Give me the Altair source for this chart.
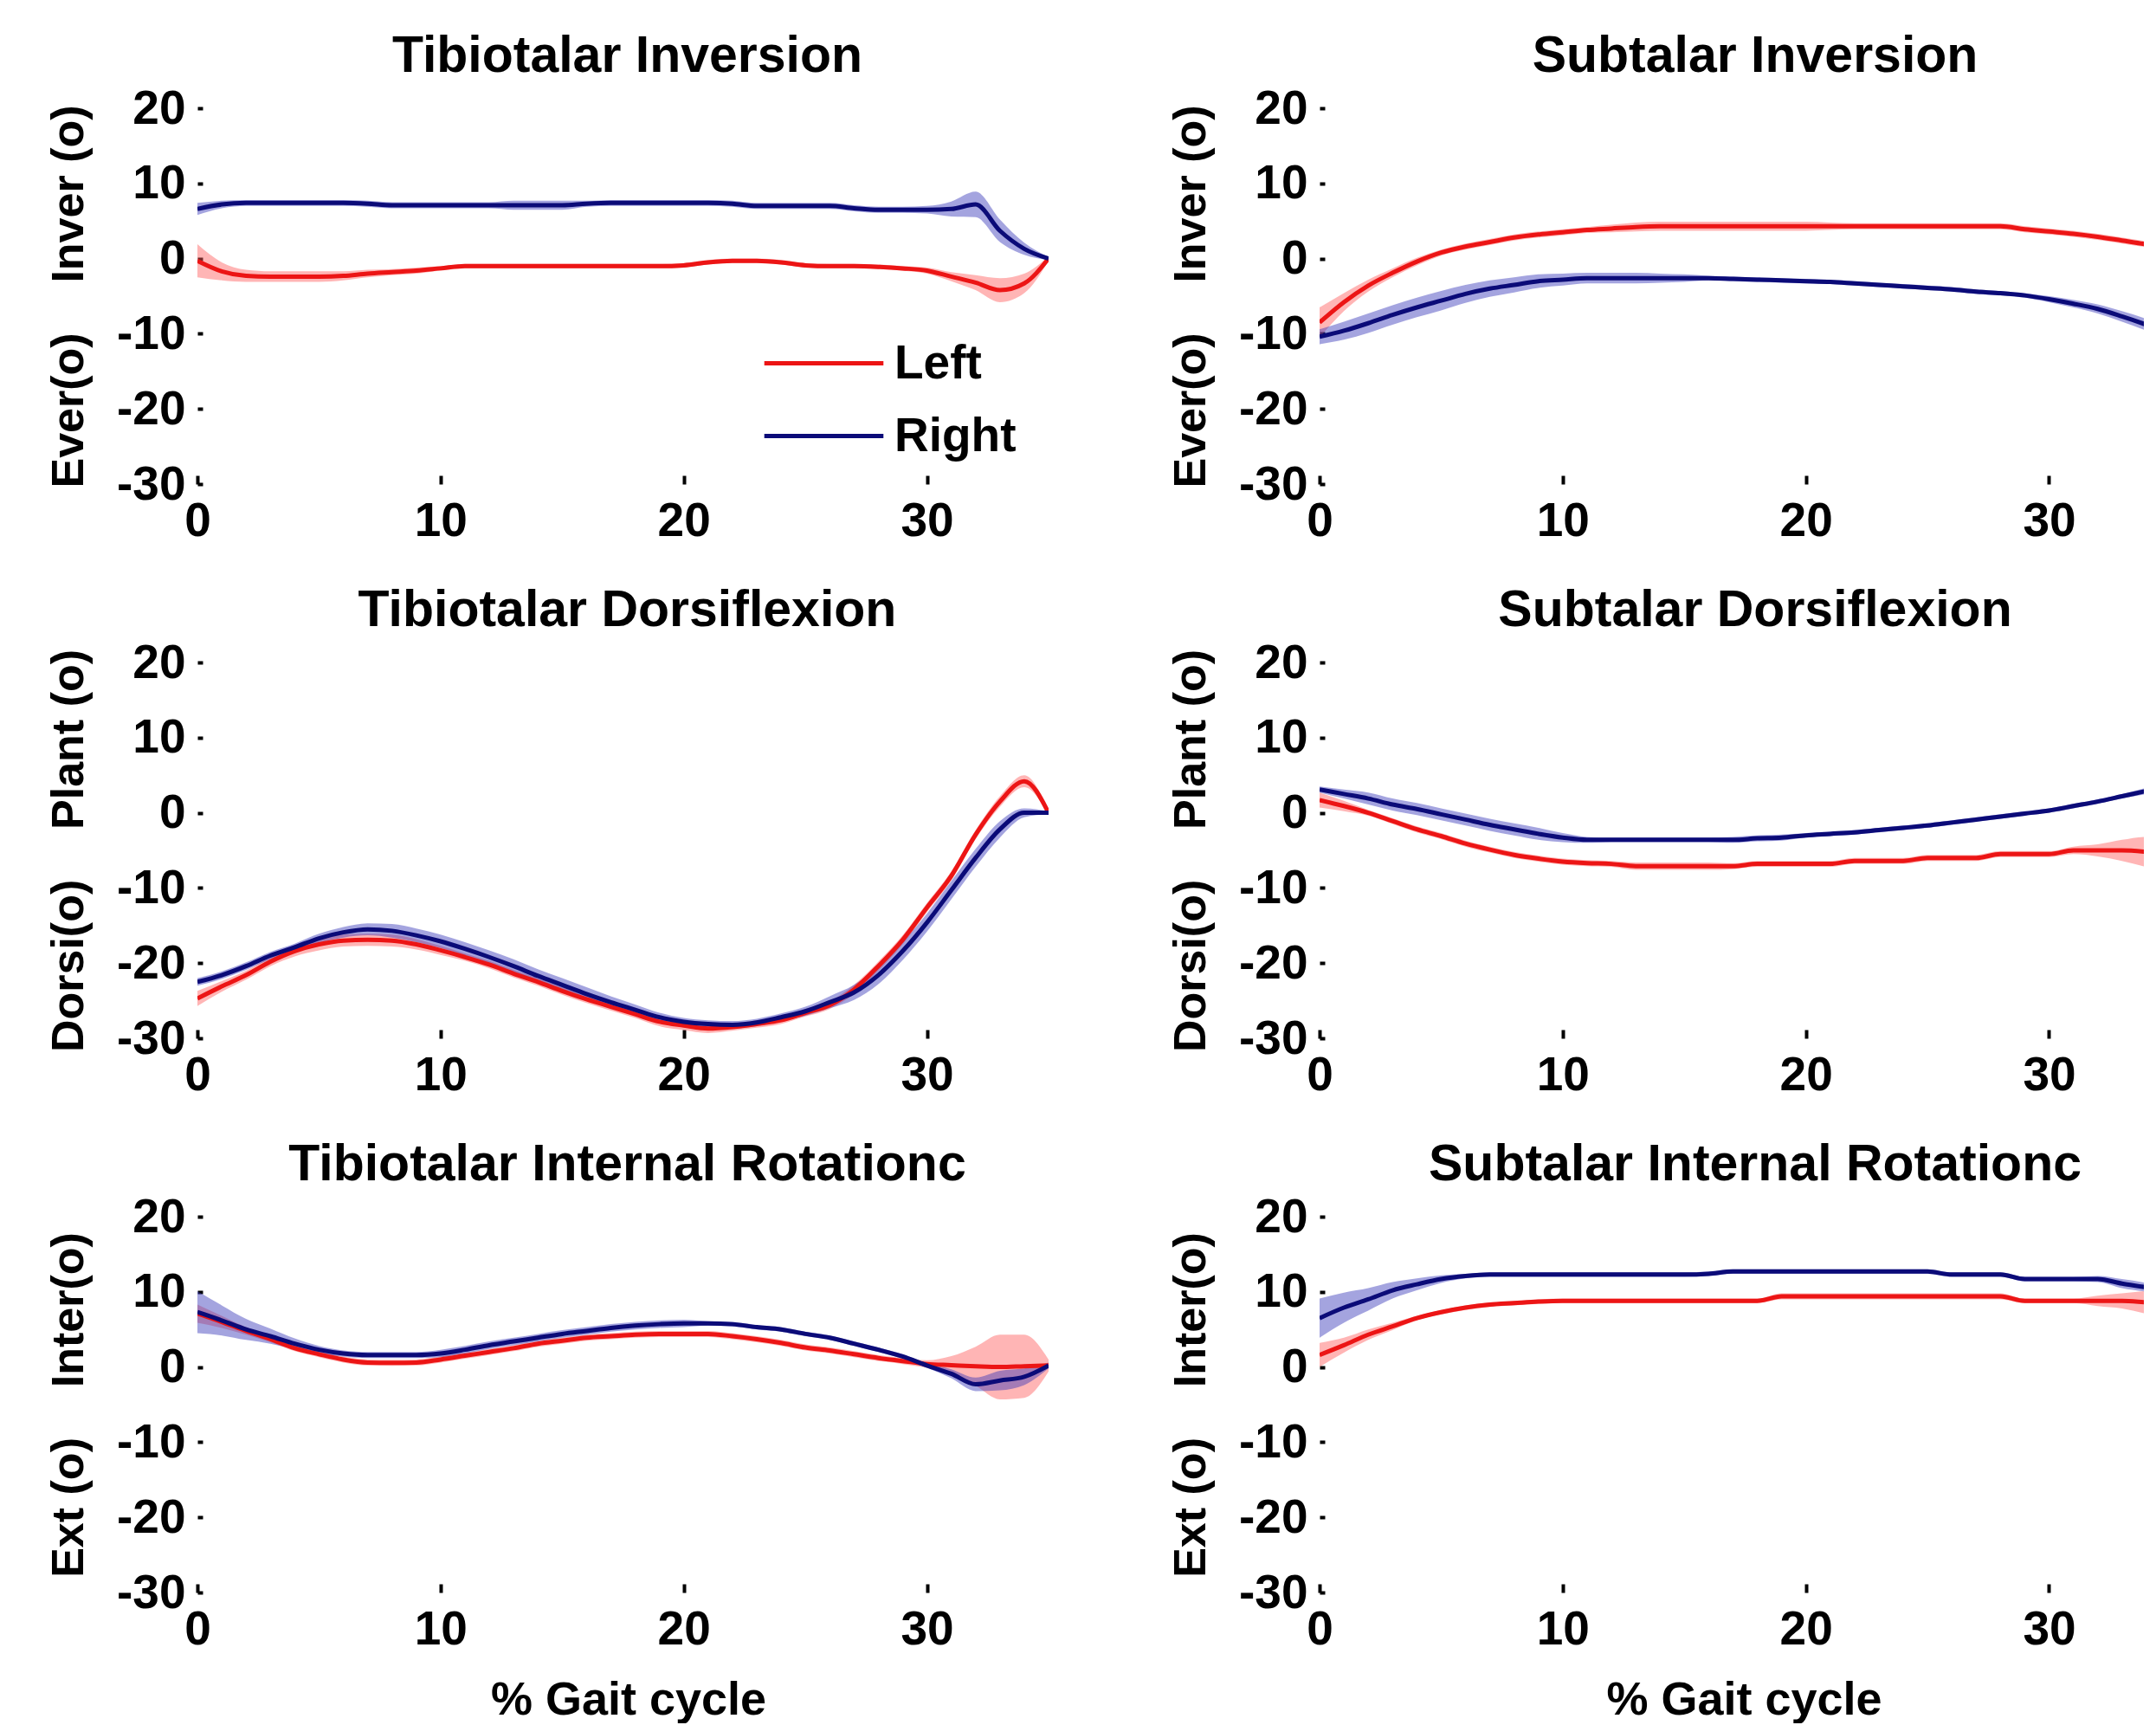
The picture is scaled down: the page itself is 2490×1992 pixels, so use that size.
import altair as alt
import pandas as pd

X = list(range(36))
SIDES = ["Left", "Right"]
LINE_COLORS = ["#EC1515", "#0B0B78"]
BAND_COLORS = ["#FF5A5A", "#3535B8"]

# ---------- panel data (mean and band half-width per % gait cycle) ----------
tib_inv_left = [-0.3, -1.7, -2.3, -2.4, -2.4, -2.4, -2.3, -2.0, -1.8, -1.6, -1.3, -1.0, -1.0, -1.0, -1.0, -1.0, -1.0, -1.0,
                -1.0, -1.0, -0.9, -0.5, -0.3, -0.3, -0.5, -0.9, -1.0, -1.0, -1.1, -1.3, -1.6, -2.4, -3.2, -4.2, -3.3, 0.0]
tib_inv_left_sd = [2.2, 1.2, 0.8, 0.7, 0.7, 0.7, 0.6, 0.5, 0.4, 0.4, 0.3, 0.3, 0.3, 0.3, 0.3, 0.3, 0.3, 0.3,
                   0.3, 0.3, 0.3, 0.3, 0.3, 0.3, 0.3, 0.3, 0.3, 0.3, 0.3, 0.3, 0.4, 0.6, 1.0, 1.6, 1.3, 0.3]
tib_inv_right = [6.6, 7.2, 7.4, 7.4, 7.4, 7.4, 7.4, 7.3, 7.1, 7.1, 7.1, 7.1, 7.1, 7.1, 7.1, 7.1, 7.3, 7.4,
                 7.4, 7.4, 7.4, 7.4, 7.3, 7.0, 7.0, 7.0, 7.0, 6.7, 6.5, 6.5, 6.5, 6.6, 7.2, 3.7, 1.3, 0.0]
tib_inv_right_sd = [0.8, 0.5, 0.4, 0.4, 0.4, 0.4, 0.4, 0.4, 0.4, 0.4, 0.4, 0.4, 0.4, 0.6, 0.6, 0.6, 0.4, 0.4,
                    0.4, 0.4, 0.4, 0.4, 0.4, 0.4, 0.4, 0.4, 0.4, 0.4, 0.4, 0.4, 0.5, 1.0, 1.7, 1.5, 0.8, 0.2]

sub_inv_left = [-8.5, -5.8, -3.6, -1.9, -0.4, 0.8, 1.6, 2.2, 2.8, 3.2, 3.5, 3.8, 4.0, 4.2, 4.3, 4.3, 4.3, 4.3,
                4.3, 4.3, 4.3, 4.3, 4.3, 4.3, 4.3, 4.3, 4.3, 4.3, 4.3, 3.9, 3.6, 3.3, 2.9, 2.4, 1.9, 1.3]
sub_inv_left_sd = [2.0, 1.2, 0.8, 0.6, 0.5, 0.4, 0.4, 0.4, 0.4, 0.4, 0.4, 0.4, 0.5, 0.6, 0.6, 0.6, 0.6, 0.6,
                   0.6, 0.6, 0.6, 0.5, 0.4, 0.4, 0.4, 0.4, 0.4, 0.4, 0.4, 0.4, 0.4, 0.4, 0.4, 0.4, 0.4, 0.4]
sub_inv_right = [-10.4, -9.6, -8.6, -7.5, -6.5, -5.6, -4.7, -4.0, -3.5, -3.0, -2.8, -2.6, -2.6, -2.6, -2.6, -2.6, -2.6, -2.7,
                 -2.8, -2.9, -3.0, -3.1, -3.3, -3.5, -3.7, -3.9, -4.1, -4.4, -4.6, -4.9, -5.4, -6.0, -6.7, -7.7, -8.8, -10.0]
sub_inv_right_sd = [1.0, 1.2, 1.3, 1.3, 1.3, 1.3, 1.2, 1.1, 1.0, 0.9, 0.8, 0.7, 0.7, 0.7, 0.6, 0.5, 0.3, 0.3,
                    0.3, 0.3, 0.3, 0.3, 0.3, 0.3, 0.3, 0.3, 0.3, 0.3, 0.3, 0.3, 0.4, 0.5, 0.6, 0.7, 0.8, 0.9]

tib_dor_left = [-24.7, -23.1, -21.6, -19.8, -18.4, -17.5, -17.0, -16.9, -17.0, -17.5, -18.3, -19.2, -20.2, -21.4, -22.5, -23.7, -24.8, -25.8,
                -26.8, -27.8, -28.3, -28.7, -28.5, -28.1, -27.6, -26.6, -25.6, -23.5, -20.4, -16.9, -12.6, -8.4, -2.9, 1.5, 4.2, 0.0]
tib_dor_left_sd = [1.0, 0.7, 0.6, 0.6, 0.7, 0.8, 0.8, 0.8, 0.8, 0.7, 0.6, 0.5, 0.5, 0.5, 0.5, 0.5, 0.5, 0.5,
                   0.5, 0.6, 0.6, 0.6, 0.5, 0.5, 0.5, 0.5, 0.5, 0.6, 0.6, 0.6, 0.6, 0.6, 0.6, 0.7, 0.8, 0.3]
tib_dor_right = [-22.5, -21.6, -20.4, -19.0, -17.9, -16.7, -15.9, -15.5, -15.7, -16.3, -17.1, -18.1, -19.2, -20.4, -21.7, -22.9, -24.1, -25.2,
                 -26.2, -27.2, -27.8, -28.1, -28.2, -27.9, -27.2, -26.4, -25.2, -23.9, -21.6, -18.4, -14.6, -10.3, -6.0, -2.2, 0.0, 0.0]
tib_dor_right_sd = [0.5, 0.5, 0.5, 0.5, 0.5, 0.6, 0.7, 0.8, 0.9, 0.9, 0.9, 0.9, 0.9, 0.9, 0.9, 0.9, 0.9, 0.8,
                    0.7, 0.6, 0.5, 0.5, 0.5, 0.5, 0.5, 0.6, 0.8, 1.0, 1.2, 1.2, 1.2, 1.2, 1.2, 1.1, 0.6, 0.2]

sub_dor_left = [1.7, 0.9, 0.0, -1.1, -2.2, -3.1, -4.1, -4.9, -5.6, -6.1, -6.5, -6.7, -6.8, -7.1, -7.1, -7.1, -7.1, -7.1,
                -6.8, -6.8, -6.8, -6.8, -6.4, -6.4, -6.4, -6.0, -6.0, -6.0, -5.5, -5.5, -5.5, -5.0, -5.0, -5.0, -5.2, -5.6]
sub_dor_left_sd = [1.0, 0.7, 0.4, 0.4, 0.4, 0.4, 0.4, 0.4, 0.4, 0.4, 0.4, 0.4, 0.4, 0.5, 0.5, 0.5, 0.5, 0.4,
                   0.4, 0.4, 0.4, 0.4, 0.4, 0.4, 0.4, 0.4, 0.4, 0.4, 0.4, 0.4, 0.4, 0.5, 0.8, 1.4, 2.0, 2.4]
sub_dor_right = [3.1, 2.5, 1.9, 1.1, 0.5, -0.2, -0.9, -1.6, -2.2, -2.8, -3.3, -3.6, -3.6, -3.6, -3.6, -3.6, -3.6, -3.6,
                 -3.4, -3.3, -3.0, -2.8, -2.6, -2.3, -2.0, -1.7, -1.3, -0.9, -0.5, -0.1, 0.3, 0.9, 1.5, 2.2, 2.9, 3.6]
sub_dor_right_sd = [0.4, 0.6, 0.8, 0.8, 0.8, 0.8, 0.8, 0.8, 0.8, 0.8, 0.6, 0.4, 0.3, 0.3, 0.3, 0.3, 0.3, 0.4,
                    0.4, 0.4, 0.3, 0.3, 0.3, 0.3, 0.3, 0.3, 0.3, 0.3, 0.3, 0.3, 0.3, 0.3, 0.3, 0.3, 0.4, 0.4]

tib_rot_left = [7.1, 6.0, 4.8, 3.7, 2.5, 1.7, 1.0, 0.6, 0.55, 0.6, 1.0, 1.5, 2.0, 2.5, 3.1, 3.5, 3.9, 4.1,
                4.3, 4.4, 4.4, 4.4, 4.1, 3.7, 3.2, 2.6, 2.2, 1.7, 1.2, 0.8, 0.4, 0.25, 0.1, 0.0, 0.1, 0.2]
tib_rot_left_sd = [1.2, 0.8, 0.5, 0.4, 0.4, 0.4, 0.4, 0.4, 0.4, 0.4, 0.4, 0.4, 0.4, 0.4, 0.4, 0.4, 0.4, 0.4,
                   0.4, 0.4, 0.4, 0.4, 0.4, 0.4, 0.4, 0.4, 0.4, 0.4, 0.4, 0.4, 0.5, 1.2, 2.6, 4.3, 4.2, 0.8]
tib_rot_right = [7.3, 6.2, 5.0, 4.1, 3.1, 2.3, 1.8, 1.6, 1.6, 1.6, 1.8, 2.3, 2.9, 3.4, 3.9, 4.4, 4.8, 5.2,
                 5.5, 5.7, 5.8, 5.8, 5.7, 5.3, 5.0, 4.4, 3.9, 3.1, 2.3, 1.4, 0.2, -0.9, -2.3, -1.8, -1.3, 0.2]
tib_rot_right_sd = [2.8, 2.0, 1.4, 1.0, 0.7, 0.5, 0.4, 0.4, 0.4, 0.4, 0.5, 0.5, 0.5, 0.5, 0.5, 0.5, 0.5, 0.5,
                    0.5, 0.5, 0.5, 0.3, 0.3, 0.3, 0.3, 0.3, 0.3, 0.3, 0.3, 0.3, 0.3, 0.6, 0.9, 1.3, 1.1, 0.4]

sub_rot_left = [1.6, 2.9, 4.3, 5.4, 6.5, 7.3, 7.9, 8.3, 8.5, 8.7, 8.8, 8.8, 8.8, 8.8, 8.8, 8.8, 8.8, 8.8,
                8.8, 9.4, 9.4, 9.4, 9.4, 9.4, 9.4, 9.4, 9.4, 9.4, 9.4, 8.8, 8.8, 8.8, 8.8, 8.8, 8.6, 8.4]
sub_rot_left_sd = [1.6, 1.0, 0.7, 0.5, 0.3, 0.3, 0.3, 0.3, 0.3, 0.3, 0.3, 0.3, 0.3, 0.3, 0.3, 0.3, 0.3, 0.3,
                   0.3, 0.4, 0.4, 0.4, 0.4, 0.4, 0.4, 0.4, 0.4, 0.4, 0.4, 0.3, 0.3, 0.3, 0.7, 1.0, 1.5, 1.8]
sub_rot_right = [6.5, 7.9, 9.0, 10.2, 11.0, 11.7, 12.1, 12.3, 12.3, 12.3, 12.3, 12.3, 12.3, 12.3, 12.3, 12.3, 12.4, 12.7,
                 12.7, 12.7, 12.7, 12.7, 12.7, 12.7, 12.7, 12.7, 12.3, 12.3, 12.3, 11.7, 11.7, 11.7, 11.7, 11.1, 10.6, 10.0]
sub_rot_right_sd = [2.6, 2.0, 1.5, 1.1, 0.8, 0.5, 0.3, 0.3, 0.3, 0.3, 0.3, 0.3, 0.3, 0.3, 0.3, 0.3, 0.3, 0.3,
                    0.3, 0.3, 0.3, 0.3, 0.3, 0.3, 0.3, 0.3, 0.3, 0.3, 0.3, 0.3, 0.3, 0.3, 0.4, 0.6, 0.6, 0.6]

TITLES = ["Tibiotalar Inversion", "Subtalar Inversion",
          "Tibiotalar Dorsiflexion", "Subtalar Dorsiflexion",
          "Tibiotalar Internal Rotationc", "Subtalar Internal Rotationc"]
NB = "\u00a0"
YTITLES = [("Ever(o)", "Inver (o)"), ("Dorsi(o)", "Plant (o)"), ("Ext (o)", "Inter(o)")]
X_TICKS = [0, 10, 20, 30]
Y_TICKS = [-30, -20, -10, 0, 10, 20]
XTITLE = "% Gait cycle"

SERIES = [
    (tib_inv_left, tib_inv_left_sd, tib_inv_right, tib_inv_right_sd),
    (sub_inv_left, sub_inv_left_sd, sub_inv_right, sub_inv_right_sd),
    (tib_dor_left, tib_dor_left_sd, tib_dor_right, tib_dor_right_sd),
    (sub_dor_left, sub_dor_left_sd, sub_dor_right, sub_dor_right_sd),
    (tib_rot_left, tib_rot_left_sd, tib_rot_right, tib_rot_right_sd),
    (sub_rot_left, sub_rot_left_sd, sub_rot_right, sub_rot_right_sd),
]

FONT = "Liberation Sans"
H = 434
LW, LMAX = 983, 35.0
RW, RMAX = 952, 33.9

LEGEND = alt.Legend(orient="none", legendX=696, legendY=267, title=None,
                    symbolType="M-4,0H4", symbolSize=1183, symbolStrokeWidth=5,
                    labelFontSize=55, labelFontWeight="bold", labelFont=FONT, labelColor="black",
                    labelOffset=54, rowPadding=28, labelLimit=400)


def panel(i):
    lm, lsd, rm, rsd = SERIES[i]
    rows = []
    for side, m, sd in (("Left", lm, lsd), ("Right", rm, rsd)):
        for x, v, s in zip(X, m, sd):
            rows.append({"x": x, "side": side, "mean": v, "lo": v - s, "hi": v + s})
    df = pd.DataFrame(rows)
    col = i % 2
    row = i // 2
    width, xmax = (LW, LMAX) if col == 0 else (RW, RMAX)
    title_dx = 5 if col == 0 else 27
    xtitle_x = LW / 2 + 6 if col == 0 else RW / 2 + 14
    bottom = row == 2
    lo_t, hi_t = YTITLES[row]
    ytitle = lo_t + NB * 4 + hi_t

    xaxis = alt.Axis(values=X_TICKS, labelExpr="'' + datum.value", grid=False, domain=False,
                     tickSize=alt.ExprRef(expr="-10"), tickWidth=4, tickColor="black",
                     labelPadding=26, labelFlush=False, labelFontSize=55, labelFontWeight="bold",
                     labelFont=FONT, labelColor="black",
                     title=XTITLE if bottom else None, titleFontSize=54, titleFontWeight="bold",
                     titleFont=FONT, titleColor="black", titlePadding=27, titleX=xtitle_x)
    yaxis = alt.Axis(values=Y_TICKS, labelExpr="'' + datum.value", grid=False, domain=False,
                     tickSize=alt.ExprRef(expr="-6"), tickWidth=4, tickColor="black",
                     labelPadding=20, labelFlush=False, labelFontSize=55, labelFontWeight="bold",
                     labelFont=FONT, labelColor="black",
                     title=ytitle, titleFontSize=52, titleFontWeight="bold", titleFont=FONT,
                     titleColor="black", titlePadding=28)
    xs = alt.Scale(domain=[0, xmax], nice=False, zero=False)
    ys = alt.Scale(domain=[-30, 20], nice=False, zero=False)

    base = alt.Chart(df)
    layers = []
    for k, side in enumerate(SIDES):
        layers.append(
            base.transform_filter(alt.datum.side == side)
            .mark_area(fill=BAND_COLORS[k], fillOpacity=0.45, clip=True, interpolate="monotone")
            .encode(
                x=alt.X("x:Q", scale=xs, axis=xaxis),
                y=alt.Y("lo:Q", scale=ys, axis=yaxis),
                y2="hi:Q",
            )
        )
    line = base.mark_line(strokeWidth=5, clip=True, interpolate="monotone").encode(
        x=alt.X("x:Q", scale=xs, axis=xaxis),
        y=alt.Y("mean:Q", scale=ys, axis=yaxis),
        stroke=alt.Stroke("side:N", scale=alt.Scale(domain=SIDES, range=LINE_COLORS), legend=LEGEND),
    )
    layers.append(line)
    return alt.layer(*layers).properties(
        width=width, height=H,
        title=alt.TitleParams(TITLES[i], fontSize=59, fontWeight="bold", font=FONT, color="black",
                              anchor="middle", frame="group", offset=3, dx=title_dx),
    )


rows = []
for r in range(3):
    rows.append(alt.hconcat(panel(2 * r), panel(2 * r + 1), spacing=138)
                .resolve_scale(x="independent", y="independent", stroke="shared")
                .resolve_legend(stroke="shared"))

chart = alt.vconcat(*rows, spacing=47).resolve_scale(
    x="independent", y="independent", stroke="shared").resolve_legend(
    stroke="shared").properties(
    padding={"left": 45, "top": 28, "right": 0, "bottom": 0}
).configure_view(stroke=None)

chart.save("out.html", embed_options={"renderer": "svg", "actions": False})
